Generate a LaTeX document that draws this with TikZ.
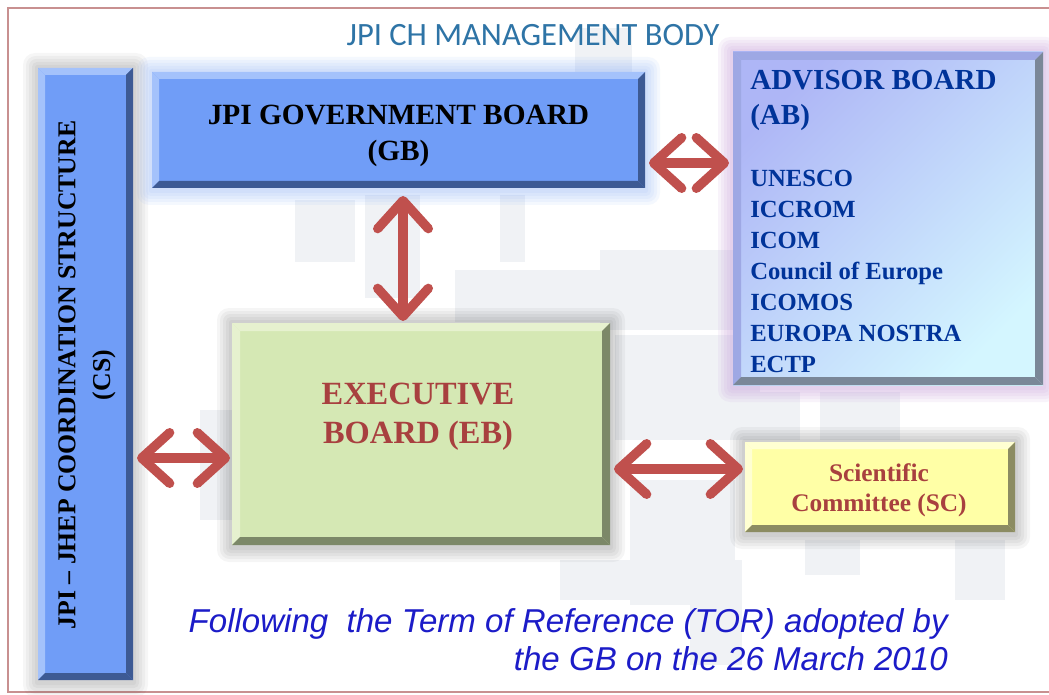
\documentclass[tikz,border=0pt]{standalone}
\usepackage{fontspec}
\setmainfont{Liberation Serif}
\newfontfamily\titlefont{Carlito}
\newfontfamily\notefont{Liberation Sans}
\usetikzlibrary{arrows.meta,calc}
\pgfdeclarelayer{bg}
\pgfdeclarelayer{halo}
\pgfsetlayers{bg,halo,main}
\definecolor{frame}{HTML}{C89090}
\definecolor{titleblue}{HTML}{2E74A6}
\definecolor{bgsq}{HTML}{F0F2F5}
\definecolor{blueA}{HTML}{709DF7}
\definecolor{blueL}{HTML}{A4C2FB}
\definecolor{blueD}{HTML}{3D5A94}
\definecolor{abA}{HTML}{AEB6F6}
\definecolor{abB}{HTML}{D4F6FF}
\definecolor{abL}{HTML}{9EA8E4}
\definecolor{abD}{HTML}{7A8798}
\definecolor{abglow}{HTML}{C9A3DD}
\definecolor{abtext}{HTML}{003399}
\definecolor{ebA}{HTML}{D5E8B4}
\definecolor{ebL}{HTML}{E6F1CF}
\definecolor{ebD}{HTML}{7C8868}
\definecolor{scA}{HTML}{FFFFA6}
\definecolor{scL}{HTML}{FFFFD2}
\definecolor{scD}{HTML}{8C8C62}
\definecolor{redtext}{HTML}{A8403F}
\definecolor{arrowred}{HTML}{C0504D}
\definecolor{noteblue}{HTML}{1C1CC8}
\newcommand\bevelbox[4]{%
  \fill[#2] (#1.north west) -- (#1.north east) -- ($(#1.north east)+(-#4,#4)$) -- ($(#1.north west)+(#4,#4)$) -- cycle;
  \fill[#2] (#1.north west) -- ($(#1.north west)+(#4,#4)$) -- ($(#1.south west)+(#4,-#4)$) -- (#1.south west) -- cycle;
  \fill[#3] (#1.north east) -- (#1.south east) -- ($(#1.south east)+(-#4,-#4)$) -- ($(#1.north east)+(-#4,#4)$) -- cycle;
  \fill[#3] (#1.south west) -- (#1.south east) -- ($(#1.south east)+(-#4,-#4)$) -- ($(#1.south west)+(#4,-#4)$) -- cycle;
}
\newcommand\halo[3]{% node, colour, opacity step
  \begin{pgfonlayer}{halo}
  \foreach \d in {3,6,9,12,15}{
    \fill[#2, opacity=#3, rounded corners=\d*0.6pt] ($(#1.north west)+(-\d,-\d)$) rectangle ($(#1.south east)+(\d,\d+2)$);
  }
  \end{pgfonlayer}
}
\tikzset{
  box/.style={inner sep=0pt, outer sep=0pt, align=center, font=\bfseries},
  sq/.style={fill=bgsq},
  arr/.style={draw=arrowred, line width=7pt, {Straight Barb[length=21pt,width=38pt,round]}-{Straight Barb[length=21pt,width=38pt,round]}}
}
\begin{document}
\begin{tikzpicture}[x=0.75pt,y=-0.75pt]
\useasboundingbox (0,0) rectangle (1049,695);
\begin{pgfonlayer}{bg}
\fill[white] (0,0) rectangle (1049,695);
% background squares
\fill[sq] (295,200) rectangle (355,262);
\fill[sq] (365,195) rectangle (420,298);
\fill[sq] (500,195) rectangle (525,262);
\fill[sq] (455,270) rectangle (640,322);
\fill[sq] (600,250) rectangle (735,330);
\fill[sq] (615,335) rectangle (760,440);
\fill[sq] (630,480) rectangle (735,605);
\fill[sq] (690,560) rectangle (742,665);
\fill[sq] (560,560) rectangle (630,600);
\fill[sq] (200,410) rectangle (232,520);
\fill[sq] (740,392) rectangle (800,440);
\fill[sq] (820,392) rectangle (900,440);
\fill[sq] (955,540) rectangle (1005,600);
\fill[sq] (575,28) rectangle (632,72);
\fill[sq] (805,540) rectangle (860,575);
% frame
\draw[frame, line width=1.2pt] (1049,8) -- (8,8) -- (8,692) -- (1049,692);
\end{pgfonlayer}
% title
\node[font=\titlefont\fontsize{24.4pt}{26pt}\selectfont, text=titleblue] (title) at (533,35) {JPI CH MANAGEMENT BODY};
% CS
\node[box, fill=blueA, minimum width={95*0.75pt}, minimum height={612*0.75pt}] (cs) at (85.5,374) {};
\halo{cs}{black}{0.035}
\bevelbox{cs}{blueL}{blueD}{7}
\node[box, rotate=90, font=\bfseries\fontsize{19.3pt}{26pt}\selectfont] (cst) at (87,375) {JPI -- JHEP COORDINATION STRUCTURE\\(CS)};
% GB
\node[box, fill=blueA, minimum width={493*0.75pt}, minimum height={116*0.75pt}] (gb) at (398.5,130) {};
\halo{gb}{blueA}{0.07}
\bevelbox{gb}{blueL}{blueD}{7}
\node[box, font=\bfseries\fontsize{22pt}{27pt}\selectfont] (gbt) at (398.5,136) {JPI GOVERNMENT BOARD\\(GB)};
% AB
\node[box, top color=abA, bottom color=abB, shading angle=45, minimum width={310*0.75pt}, minimum height={333*0.75pt}] (ab) at (888,218.5) {};
\halo{ab}{abglow}{0.12}
\bevelbox{ab}{abL}{abD}{8}
\node[anchor=north west, inner sep=0pt, align=left, text=abtext, font=\bfseries\fontsize{21.8pt}{26.5pt}\selectfont] (abh) at (750,70) {ADVISOR BOARD\\(AB)};
\node[anchor=north west, inner sep=0pt, align=left, text=abtext, font=\bfseries\fontsize{18.5pt}{23.2pt}\selectfont] (abt) at (750,170) {UNESCO\\ICCROM\\ICOM\\Council of Europe\\ICOMOS\\EUROPA NOSTRA\\ECTP};
% EB
\node[box, fill=ebA, minimum width={378*0.75pt}, minimum height={222*0.75pt}] (eb) at (421,434) {};
\halo{eb}{black}{0.04}
\bevelbox{eb}{ebL}{ebD}{8}
\node[box, text=redtext, font=\bfseries\fontsize{24.3pt}{29.5pt}\selectfont] (ebt) at (418,417) {EXECUTIVE\\BOARD (EB)};
% SC
\node[box, fill=scA, minimum width={270*0.75pt}, minimum height={90*0.75pt}] (sc) at (880,487) {};
\halo{sc}{black}{0.04}
\bevelbox{sc}{scL}{scD}{7}
\node[box, text=redtext, font=\bfseries\fontsize{19pt}{22.5pt}\selectfont] (sct) at (879,490) {Scientific\\Committee (SC)};
% arrows
\draw[arr] ($(gb.east)+(4,33)$) -- ($(ab.west)+(-4,-55.5)$);
\draw[arr] ($(gb.south)+(4.5,8)$) -- ($(eb.north)+(-18,-2)$);
\draw[arr] ($(cs.east)+(4,84)$) -- ($(eb.west)+(-2,24)$);
\draw[arr] ($(eb.east)+(4,35)$) -- ($(sc.west)+(-2,-18)$);
% note
\node[anchor=north east, inner sep=0pt, align=right, text=noteblue, font=\notefont\itshape\fontsize{24.8pt}{28.5pt}\selectfont] (note) at (948,608) {Following\ \ the Term of Reference (TOR) adopted by\\the GB on the 26 March 2010};
\end{tikzpicture}
\end{document}
